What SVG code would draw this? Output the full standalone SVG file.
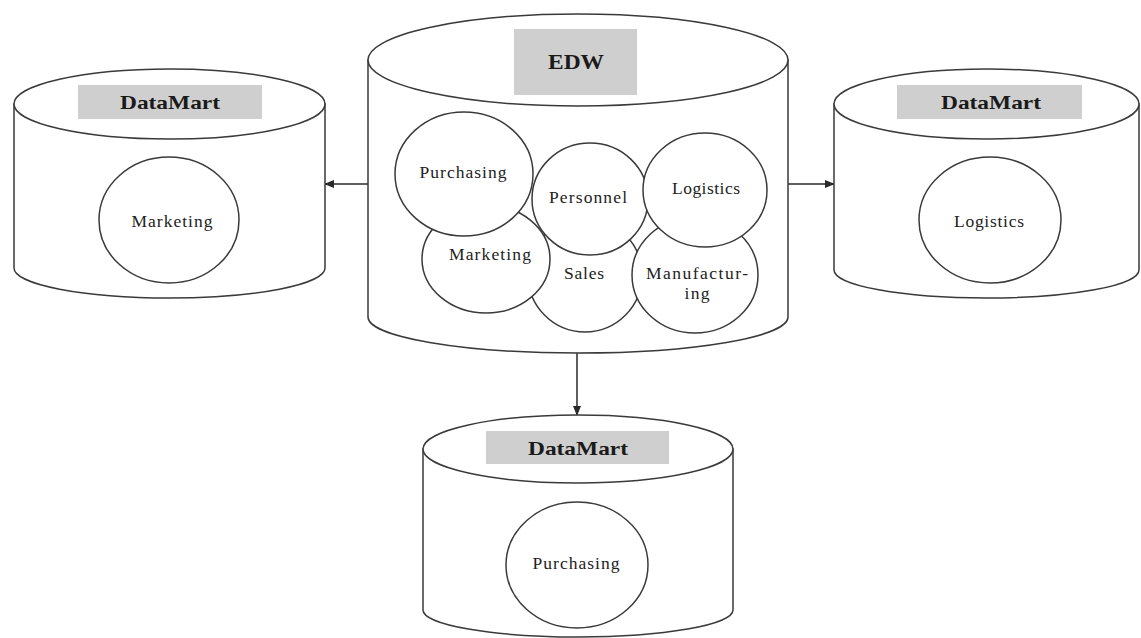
<svg xmlns="http://www.w3.org/2000/svg" width="1141" height="638" viewBox="0 0 1141 638">
  <style>
    .shape { fill: #ffffff; stroke: #3a3a3a; stroke-width: 1.5; }
    .label-bg { fill: #cfcfcf; stroke: none; }
    .title { font-family: "Liberation Serif", "DejaVu Serif", serif; font-weight: bold; fill: #1a1a1a; text-anchor: middle; }
    .item { font-family: "Liberation Serif", "DejaVu Serif", serif; font-size: 17.5px; fill: #222222; text-anchor: middle; }
    .link { fill: none; stroke: #2a2a2a; stroke-width: 1.5; }
  </style>
  <defs>
    <marker id="arrow" markerUnits="userSpaceOnUse" markerWidth="10" markerHeight="8" refX="9" refY="4" orient="auto">
      <path d="M0,0 L10,4 L0,8 Z" fill="#2a2a2a"/>
    </marker>
  </defs>
  <rect width="1141" height="638" fill="#ffffff"/>

  <!-- connectors -->
  <g id="connectors">
    <line class="link" x1="368" y1="184" x2="325" y2="184" marker-end="url(#arrow)"/>
    <line class="link" x1="788" y1="184" x2="834" y2="184" marker-end="url(#arrow)"/>
    <line class="link" x1="577" y1="353" x2="577" y2="415" marker-end="url(#arrow)"/>
  </g>

  <!-- enterprise data warehouse -->
  <g id="edw">
    <path class="shape" d="M368,60 L368,317 A210,36 0 0 0 788,317 L788,60 Z"/>
    <ellipse class="shape" cx="578" cy="60" rx="210" ry="46"/>
    <rect class="label-bg" x="514" y="29" width="123" height="66"/>
    <text class="title" x="576" y="69" font-size="21" textLength="56" lengthAdjust="spacingAndGlyphs">EDW</text>
    <g id="edw-sales">
      <ellipse class="shape" cx="585" cy="275" rx="57" ry="57"/>
      <text class="item" x="584" y="279" textLength="40">Sales</text>
    </g>
    <g id="edw-manufacturing">
      <ellipse class="shape" cx="695" cy="275" rx="63" ry="58"/>
      <text class="item" x="697" y="279" textLength="102">Manufactur-</text>
      <text class="item" x="697" y="299" textLength="25">ing</text>
    </g>
    <g id="edw-marketing">
      <ellipse class="shape" cx="486" cy="259" rx="64" ry="54"/>
      <text class="item" x="490" y="260" textLength="82">Marketing</text>
    </g>
    <g id="edw-personnel">
      <ellipse class="shape" cx="590" cy="199" rx="58" ry="56"/>
      <text class="item" x="588" y="203" textLength="78">Personnel</text>
    </g>
    <g id="edw-logistics">
      <ellipse class="shape" cx="705" cy="190" rx="62" ry="57"/>
      <text class="item" x="706" y="194" textLength="68">Logistics</text>
    </g>
    <g id="edw-purchasing">
      <ellipse class="shape" cx="464" cy="174" rx="69" ry="62"/>
      <text class="item" x="463" y="178" textLength="87">Purchasing</text>
    </g>
  </g>

  <!-- marketing data mart -->
  <g id="datamart-marketing">
    <path class="shape" d="M14,104 L14,268 A155.5,30 0 0 0 325,268 L325,104 Z"/>
    <ellipse class="shape" cx="169.5" cy="104" rx="155.5" ry="35"/>
    <rect class="label-bg" x="78" y="85" width="184" height="34"/>
    <text class="title" x="170" y="109" font-size="19" textLength="100" lengthAdjust="spacingAndGlyphs">DataMart</text>
    <ellipse class="shape" cx="169" cy="220" rx="70" ry="63"/>
    <text class="item" x="172" y="227" textLength="81">Marketing</text>
  </g>

  <!-- logistics data mart -->
  <g id="datamart-logistics">
    <path class="shape" d="M834,104 L834,270 A152.5,28 0 0 0 1139,270 L1139,104 Z"/>
    <ellipse class="shape" cx="986.5" cy="104" rx="152.5" ry="35"/>
    <rect class="label-bg" x="897" y="85" width="185" height="34"/>
    <text class="title" x="991" y="109" font-size="19" textLength="100" lengthAdjust="spacingAndGlyphs">DataMart</text>
    <ellipse class="shape" cx="990" cy="220" rx="71" ry="63"/>
    <text class="item" x="989" y="227" textLength="70">Logistics</text>
  </g>

  <!-- purchasing data mart -->
  <g id="datamart-purchasing">
    <path class="shape" d="M423,449 L423,610 A155,27 0 0 0 733,610 L733,449 Z"/>
    <ellipse class="shape" cx="578" cy="449" rx="155" ry="34"/>
    <rect class="label-bg" x="486" y="431" width="183" height="33"/>
    <text class="title" x="578" y="455" font-size="19" textLength="100" lengthAdjust="spacingAndGlyphs">DataMart</text>
    <ellipse class="shape" cx="577" cy="565" rx="71" ry="63"/>
    <text class="item" x="576" y="569" textLength="87">Purchasing</text>
  </g>
</svg>
